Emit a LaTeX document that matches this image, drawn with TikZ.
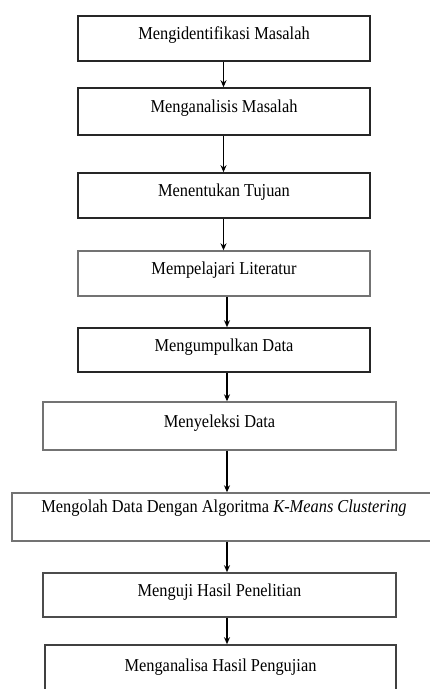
\documentclass[tikz,border=0pt]{standalone}
\usepackage{fontspec}
\setmainfont[FakeStretch=0.9]{Liberation Serif}
\usetikzlibrary{arrows.meta,calc}
\begin{document}
\begin{tikzpicture}[x=1pt,y=-1pt,
  stepbox/.style={draw=black!85,line width=1.6pt,rectangle,inner sep=0pt,
    minimum width=292pt,minimum height=45pt,text depth=10pt,
    font=\fontsize{18.2}{20}\selectfont},
  lightbox/.style={stepbox,draw=black!55,line width=1.4pt},
  flow/.style={line width=1.1pt,-{Stealth[length=7pt,width=6pt]}}]
\useasboundingbox (0,0) rectangle (429,689);
\fill[white] (0,0) rectangle (429,689);
\node[stepbox] (n1) at (224,38.25) {Mengidentifikasi Masalah};
\node[stepbox,minimum height=47pt] (n2) at (224,111.5) {Menganalisis Masalah};
\node[stepbox] (n3) at (224,195.5) {Menentukan Tujuan};
\node[lightbox] (n4) at (224,273.5) {Mempelajari Literatur};
\node[stepbox,minimum height=44pt] (n5) at (224,350) {Mengumpulkan Data};
\node[lightbox,minimum width=353pt,minimum height=48pt] (n6) at (219.5,426) {Menyeleksi Data};
\node[lightbox,minimum width=424pt,minimum height=48pt,text depth=22pt] (n7) at (224,517) {Mengolah Data Dengan Algoritma \textit{K-Means Clustering}};
\node[stepbox,draw=black!70,minimum width=353pt,minimum height=44pt] (n8) at (219.5,595) {Menguji Hasil Penelitian};
\node[stepbox,draw=black!75,minimum width=351pt,minimum height=50pt] (n9) at (220.5,670) {Menganalisa Hasil Pengujian};
\coordinate (a1) at (223.5,0);
\coordinate (a2) at (227,0);
\draw[flow] (n1.south -| a1) -- (n2.north -| a1);
\draw[flow] (n2.south -| a1) -- (n3.north -| a1);
\draw[flow] (n3.south -| a1) -- (n4.north -| a1);
\draw[flow,line width=1.6pt] (n4.south -| a2) -- (n5.north -| a2);
\draw[flow,line width=1.6pt] (n5.south -| a2) -- (n6.north -| a2);
\draw[flow,line width=1.6pt] (n6.south -| a2) -- (n7.north -| a2);
\draw[flow,line width=1.6pt] (n7.south -| a2) -- (n8.north -| a2);
\draw[flow,line width=1.6pt] (n8.south -| a2) -- (n9.north -| a2);
\end{tikzpicture}
\end{document}
